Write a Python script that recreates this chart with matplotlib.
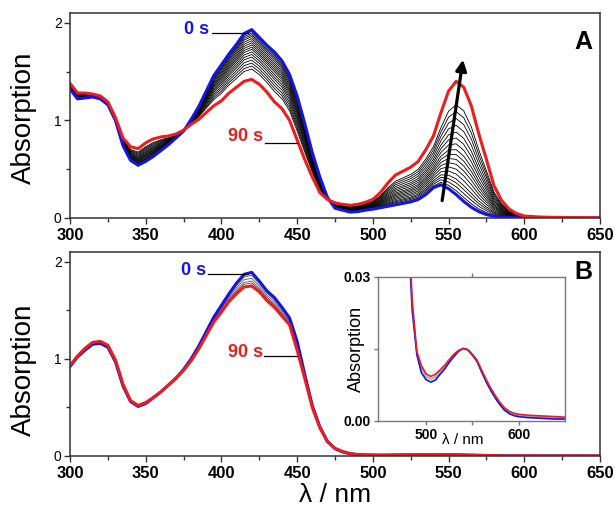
import numpy as np
import matplotlib
matplotlib.use('Agg')
import matplotlib.pyplot as plt
from matplotlib.ticker import MultipleLocator

plt.rcParams['font.family'] = ['Liberation Sans', 'DejaVu Sans']
plt.rcParams['lines.solid_joinstyle'] = 'round'

# wavelength grid (nm)
wl = list(range(300, 601, 5)) + [610, 620, 630, 640, 650]

# panel A: 0 s and 90 s spectra
a_0s = [1.32, 1.22, 1.23, 1.24, 1.22, 1.16, 1.00, 0.74, 0.59, 0.54,
        0.58, 0.63, 0.69, 0.75, 0.82, 0.89, 1.01, 1.14, 1.30, 1.46,
        1.57, 1.68, 1.78, 1.89, 1.93, 1.85, 1.77, 1.70, 1.61, 1.47,
        1.25, 0.97, 0.67, 0.42, 0.21, 0.10, 0.08, 0.06, 0.065, 0.08,
        0.09, 0.105, 0.12, 0.135, 0.15, 0.165, 0.19, 0.24, 0.31, 0.34,
        0.30, 0.24, 0.17, 0.11, 0.065, 0.035, 0.018, 0.009, 0.005, 0.003,
        0.002, 0.001, 0.0005, 0.0, 0.0, 0.0]
a_90s = [1.38, 1.28, 1.28, 1.27, 1.25, 1.19, 1.03, 0.82, 0.73, 0.71,
         0.77, 0.81, 0.83, 0.84, 0.86, 0.90, 0.96, 1.01, 1.08, 1.15,
         1.20, 1.28, 1.34, 1.40, 1.42, 1.37, 1.29, 1.19, 1.12, 1.00,
         0.80, 0.60, 0.42, 0.26, 0.19, 0.155, 0.14, 0.13, 0.14, 0.16,
         0.19, 0.26, 0.36, 0.44, 0.48, 0.52, 0.58, 0.70, 0.84, 1.08,
         1.30, 1.40, 1.34, 1.15, 0.86, 0.60, 0.33, 0.18, 0.09, 0.045,
         0.02, 0.01, 0.006, 0.004, 0.003, 0.003]
# heights of the thin intermediate traces at 555 nm
a_mid_555 = [0.28, 0.32, 0.36, 0.40, 0.45, 0.50, 0.55, 0.60, 0.65,
             0.70, 0.76, 0.82, 0.88, 0.95, 1.02, 1.09, 1.16]

# panel B: 0 s and 90 s spectra
b_0s = [0.92, 1.02, 1.09, 1.15, 1.16, 1.12, 0.97, 0.72, 0.56, 0.51,
        0.54, 0.60, 0.66, 0.73, 0.80, 0.89, 1.00, 1.13, 1.28, 1.43,
        1.55, 1.67, 1.78, 1.87, 1.89, 1.80, 1.70, 1.63, 1.53, 1.42,
        1.18, 0.84, 0.52, 0.30, 0.15, 0.075, 0.042, 0.023, 0.0138, 0.0100,
        0.0086, 0.0081, 0.0085, 0.0097, 0.0108, 0.0122, 0.0134, 0.0145, 0.0151, 0.0148,
        0.0137, 0.0124, 0.0102, 0.0081, 0.0063, 0.0047, 0.0033, 0.0022, 0.0015, 0.0011,
        0.0009, 0.0007, 0.0006, 0.0005, 0.0004, 0.0004]
b_90s = [0.93, 1.03, 1.11, 1.17, 1.18, 1.14, 0.99, 0.74, 0.57, 0.52,
         0.55, 0.60, 0.66, 0.73, 0.80, 0.88, 0.98, 1.10, 1.24, 1.38,
         1.48, 1.59, 1.67, 1.74, 1.75, 1.69, 1.60, 1.53, 1.44, 1.35,
         1.09, 0.80, 0.50, 0.29, 0.15, 0.078, 0.046, 0.025, 0.0145, 0.0115,
         0.0098, 0.0093, 0.0097, 0.0106, 0.0116, 0.0128, 0.0139, 0.0147, 0.0151, 0.0149,
         0.0139, 0.0127, 0.0106, 0.0086, 0.0068, 0.0052, 0.0038, 0.0027, 0.0020, 0.0016,
         0.0014, 0.0012, 0.0011, 0.0010, 0.0009, 0.0008]
# heights of the thin intermediate traces at 420 nm
b_mid_420 = [1.86, 1.83, 1.80, 1.78]

BLUE = '#1414e6'
RED = '#ee1c1c'

wl = np.array(wl)
a_0s, a_90s = np.array(a_0s), np.array(a_90s)
b_0s, b_90s = np.array(b_0s), np.array(b_90s)


def mid_traces(y0, y1, heights, at_nm):
    i = list(wl).index(at_nm)
    return [y0 + (h - y0[i]) / (y1[i] - y0[i]) * (y1 - y0) for h in heights]


def style_axes(ax):
    ax.set_xlim(300, 650)
    ax.set_ylim(0, 2.1)
    ax.xaxis.set_major_locator(MultipleLocator(50))
    ax.xaxis.set_minor_locator(MultipleLocator(25))
    ax.yaxis.set_major_locator(MultipleLocator(1))
    ax.yaxis.set_minor_locator(MultipleLocator(0.5))
    ax.tick_params(which='major', direction='out', length=4, width=1, colors='#333333')
    ax.tick_params(which='minor', direction='out', length=3, width=1, colors='#333333')
    ax.tick_params(axis='x', labelsize=12, labelcolor='black', pad=3)
    ax.tick_params(axis='y', labelsize=10, labelcolor='black', pad=2)
    for lab in ax.get_xticklabels():
        lab.set_fontweight('bold')
    for s in ax.spines.values():
        s.set_color('#333333')
        s.set_linewidth(1.1)


fig = plt.figure(figsize=(6.15, 5.08), dpi=100)
axA = fig.add_axes([0.1138, 0.5709, 0.8618, 0.4035])
axB = fig.add_axes([0.1138, 0.1024, 0.8618, 0.4016])

# ---- panel A
for y in mid_traces(a_0s, a_90s, a_mid_555, 555):
    axA.plot(wl, y, color='black', lw=0.6)
axA.plot(wl, a_0s, color=BLUE, lw=2.2)
axA.plot(wl, a_90s, color=RED, lw=2.2)
style_axes(axA)
axA.set_ylabel('Absorption', fontsize=20)
axA.yaxis.set_label_coords(-0.062, 0.49)

axA.text(392, 1.93, '0 s', color=BLUE, fontsize=13, fontweight='bold', ha='right', va='center')
axA.plot([393.8, 417.6], [1.90, 1.90], color='black', lw=0.9)
axA.text(427.5, 0.83, '90 s', color=RED, fontsize=13, fontweight='bold', ha='right', va='center')
axA.plot([428.8, 449.9], [0.765, 0.765], color='black', lw=0.9)
axA.annotate('', xy=(559.8, 1.65), xytext=(545.5, 0.15),
             arrowprops=dict(arrowstyle='-|>', color='black', lw=2.3, mutation_scale=16))
axA.text(0.968, 0.86, 'A', transform=axA.transAxes, fontsize=18, fontweight='bold',
         ha='center', va='center')

# ---- panel B
for y in mid_traces(b_0s, b_90s, b_mid_420, 420):
    axB.plot(wl, y, color='#555555', lw=0.6)
axB.plot(wl, b_0s, color=BLUE, lw=2.2)
axB.plot(wl, b_90s, color=RED, lw=2.2)
style_axes(axB)
axB.set_ylabel('Absorption', fontsize=20)
axB.yaxis.set_label_coords(-0.062, 0.42)
axB.set_xlabel('λ / nm', fontsize=19)
axB.xaxis.set_label_coords(0.5, -0.13)

axB.text(389.8, 1.91, '0 s', color=BLUE, fontsize=13, fontweight='bold', ha='right', va='center')
axB.plot([391.4, 417.8], [1.87, 1.87], color='black', lw=0.9)
axB.text(427.3, 1.07, '90 s', color=RED, fontsize=13, fontweight='bold', ha='right', va='center')
axB.plot([428.4, 449.7], [1.03, 1.03], color='black', lw=0.9)
axB.text(0.968, 0.9, 'B', transform=axB.transAxes, fontsize=18, fontweight='bold',
         ha='center', va='center')

# ---- inset (same panel B data, zoomed)
axI = fig.add_axes([0.6146, 0.1713, 0.304, 0.2835])
for y in mid_traces(b_0s, b_90s, [0.0086, 0.0089], 505):
    axI.plot(wl, y, color='#aaaaaa', lw=0.8)
axI.plot(wl, b_0s, color=BLUE, lw=1.2)
axI.plot(wl, b_90s, color=RED, lw=1.2)
axI.set_xlim(448, 650)
axI.set_ylim(0, 0.03)
axI.set_xticks([500, 600])
axI.set_xticks([550], minor=True)
axI.set_yticks([0.0, 0.03])
axI.set_yticks([0.015], minor=True)
axI.set_yticklabels(['0.00', '0.03'])
axI.tick_params(which='both', direction='out', length=3, width=1, colors='#777777',
                labelcolor='black', labelsize=10, pad=2)
axI.tick_params(axis='x', which='minor', top=True)
for lab in axI.get_xticklabels() + axI.get_yticklabels():
    lab.set_fontweight('bold')
for s in axI.spines.values():
    s.set_color('#777777')
    s.set_linewidth(1.0)
axI.set_ylabel('Absorption', fontsize=13)
axI.yaxis.set_label_coords(-0.07, 0.5)
axI.set_xlabel('λ / nm', fontsize=11)
axI.xaxis.set_label_coords(0.455, -0.08)

fig.savefig('out.png', dpi=100)
